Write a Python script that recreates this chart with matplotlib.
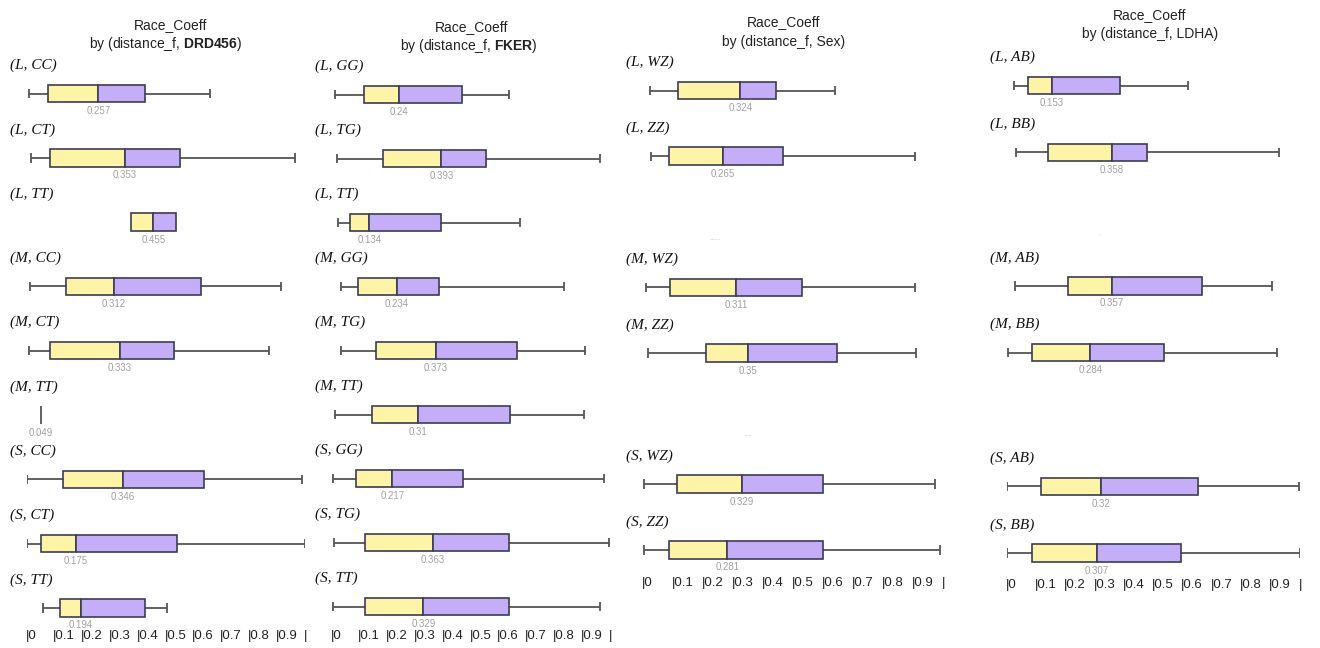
import matplotlib
matplotlib.use("Agg")
import matplotlib.pyplot as plt

plt.rcParams["font.family"] = ["Liberation Sans", "DejaVu Sans"]
plt.rcParams["mathtext.fontset"] = "custom"
plt.rcParams["mathtext.rm"] = "Liberation Sans"
plt.rcParams["mathtext.bf"] = "Liberation Sans:bold"

W, H = 1320, 648

# --- data ---
drd_labels = ["(L, CC)", "(L, CT)", "(L, TT)", "(M, CC)", "(M, CT)", "(M, TT)", "(S, CC)", "(S, CT)", "(S, TT)"]
drd_wlo = [0.007, 0.013, 0.375, 0.010, 0.006, 0.049, 0.000, 0.000, 0.059]
drd_q1 = [0.077, 0.084, 0.375, 0.142, 0.084, 0.049, 0.128, 0.050, 0.120]
drd_med = [0.257, 0.353, 0.455, 0.312, 0.333, 0.049, 0.346, 0.175, 0.194]
drd_q3 = [0.425, 0.552, 0.535, 0.625, 0.527, 0.049, 0.638, 0.538, 0.425]
drd_whi = [0.660, 0.965, 0.535, 0.913, 0.871, 0.049, 0.988, 1.000, 0.505]

fker_labels = ["(L, GG)", "(L, TG)", "(L, TT)", "(M, GG)", "(M, TG)", "(M, TT)", "(S, GG)", "(S, TG)", "(S, TT)"]
fker_wlo = [0.012, 0.018, 0.022, 0.033, 0.031, 0.009, 0.004, 0.007, 0.004]
fker_q1 = [0.114, 0.185, 0.064, 0.093, 0.157, 0.145, 0.087, 0.117, 0.120]
fker_med = [0.24, 0.393, 0.134, 0.234, 0.373, 0.31, 0.217, 0.363, 0.329]
fker_q3 = [0.467, 0.553, 0.391, 0.386, 0.664, 0.641, 0.473, 0.638, 0.638]
fker_whi = [0.638, 0.963, 0.678, 0.834, 0.911, 0.908, 0.978, 0.997, 0.963]

sex_labels = ["(L, WZ)", "(L, ZZ)", "(M, WZ)", "(M, ZZ)", "(S, WZ)", "(S, ZZ)"]
sex_wlo = [0.022, 0.028, 0.010, 0.015, 0.003, 0.003]
sex_q1 = [0.116, 0.087, 0.091, 0.210, 0.114, 0.088]
sex_med = [0.324, 0.265, 0.311, 0.35, 0.329, 0.281]
sex_q3 = [0.444, 0.466, 0.531, 0.648, 0.600, 0.601]
sex_whi = [0.639, 0.906, 0.906, 0.909, 0.972, 0.991]

ldha_labels = ["(L, AB)", "(L, BB)", "(M, AB)", "(M, BB)", "(S, AB)", "(S, BB)"]
ldha_wlo = [0.023, 0.030, 0.029, 0.003, 0.000, 0.000]
ldha_q1 = [0.072, 0.139, 0.207, 0.087, 0.116, 0.086]
ldha_med = [0.153, 0.358, 0.357, 0.284, 0.32, 0.307]
ldha_q3 = [0.385, 0.478, 0.667, 0.537, 0.652, 0.594]
ldha_whi = [0.618, 0.928, 0.905, 0.923, 0.998, 1.000]

tick_vals = [0, 0.1, 0.2, 0.3, 0.4, 0.5, 0.6, 0.7, 0.8, 0.9, 1.0]
tick_txt = ["|0", "|0.1", "|0.2", "|0.3", "|0.4", "|0.5", "|0.6", "|0.7", "|0.8", "|0.9", "|"]

YEL = "#fdf4a7"
PUR = "#c4aef8"
EDGE = "#3c3c55"
WHISK = "#555555"

# --- layout in pixels ---
panels = [
    dict(gene=r"$\mathbf{DRD456}$", labels=drd_labels, wlo=drd_wlo, q1=drd_q1, med=drd_med, q3=drd_q3, whi=drd_whi,
         x0=27, x1=305, y0=93.5, step=64.3, slots=list(range(9)), tick_y=636,
         t1=(171, 25), t2=(166, 44), empty=[]),
    dict(gene=r"$\mathbf{FKER}$", labels=fker_labels, wlo=fker_wlo, q1=fker_q1, med=fker_med, q3=fker_q3, whi=fker_whi,
         x0=332, x1=610, y0=94.5, step=64.0, slots=list(range(9)), tick_y=636,
         t1=(472, 27), t2=(469, 46), empty=[]),
    dict(gene="Sex", labels=sex_labels, wlo=sex_wlo, q1=sex_q1, med=sex_med, q3=sex_q3, whi=sex_whi,
         x0=643, x1=943, y0=90.6, step=65.6, slots=[0, 1, 3, 4, 6, 7], tick_y=583,
         t1=(784, 22), t2=(784, 42), empty=[(2, 0.24, "----"), (5, 0.35, "---")]),
    dict(gene="LDHA", labels=ldha_labels, wlo=ldha_wlo, q1=ldha_q1, med=ldha_med, q3=ldha_q3, whi=ldha_whi,
         x0=1007, x1=1300, y0=85.5, step=66.8, slots=[0, 1, 3, 4, 6, 7], tick_y=585,
         t1=(1150, 15), t2=(1150, 34), empty=[(2, 0.32, "'")]),
]

fig = plt.figure(figsize=(W / 100, H / 100), dpi=100)
fig.patch.set_facecolor("white")

BOX_H = 17.5
CAP = 4.7

for p in panels:
    ax = fig.add_axes([p["x0"] / W, 0, (p["x1"] - p["x0"]) / W, 1])
    ax.set_xlim(0, 1)
    ax.set_ylim(H, 0)
    ax.axis("off")
    px = 1.0 / (p["x1"] - p["x0"])

    for i, lab in enumerate(p["labels"]):
        y = p["y0"] + p["slots"][i] * p["step"]
        wlo, q1, med, q3, whi = p["wlo"][i], p["q1"][i], p["med"][i], p["q3"][i], p["whi"][i]
        if wlo < q1:
            ax.hlines(y, wlo, q1, color=WHISK, lw=1.3, zorder=1)
            ax.vlines(wlo, y - CAP, y + CAP, color=WHISK, lw=1.3, zorder=1)
        if whi > q3:
            ax.hlines(y, q3, whi, color=WHISK, lw=1.3, zorder=1)
            ax.vlines(whi, y - CAP, y + CAP, color=WHISK, lw=1.3, zorder=1)
        if q3 > q1:
            ax.barh(y, med - q1, left=q1, height=BOX_H, color=YEL, edgecolor=EDGE, lw=1.2, zorder=2)
            ax.barh(y, q3 - med, left=med, height=BOX_H, color=PUR, edgecolor=EDGE, lw=1.2, zorder=2)
        else:
            ax.vlines(med, y - BOX_H / 2, y + BOX_H / 2, color=WHISK, lw=1.3, zorder=2)
        ax.text(-17 * px, y - 28, lab, family=["Liberation Serif", "DejaVu Serif"], style="italic",
                fontsize=11, color="#111111", ha="left", va="center")
        ax.text(med, y + 17.5, f"{med:g}", fontsize=7, color="#a0a0a0", ha="center", va="center")

    # faint leftovers where a group has no data
    for slot, xv, mark in p["empty"]:
        y = p["y0"] + slot * p["step"]
        ax.text(xv, y + 17.5, mark, fontsize=6, color="#d8d8d8", ha="center", va="center")

    for v, t in zip(tick_vals, tick_txt):
        ax.text(v - 1.5 * px, p["tick_y"], t, fontsize=9.5, color="#222222", ha="left", va="center")

    fig.text(p["t1"][0] / W, 1 - p["t1"][1] / H, "Race_Coeff", fontsize=10, color="#222222",
             ha="center", va="center")
    fig.text(p["t2"][0] / W, 1 - p["t2"][1] / H, "by (distance_f, " + p["gene"] + ")", fontsize=10,
             color="#222222", ha="center", va="center")

fig.savefig("out.png", dpi=100, facecolor="white")
